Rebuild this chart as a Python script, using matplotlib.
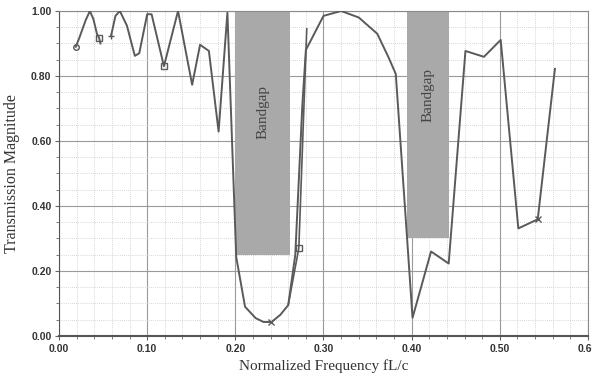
import numpy as np
import matplotlib.pyplot as plt
from matplotlib.ticker import MultipleLocator

# Dane
s1_x = [0.019, 0.023, 0.030, 0.035, 0.039, 0.043, 0.0455, 0.047]
s1_y = [0.89, 0.917, 0.97, 1.00, 0.975, 0.93, 0.917, 0.90]

s2_x = [0.059, 0.064, 0.069, 0.077, 0.086, 0.091, 0.100, 0.105, 0.119, 0.135,
        0.151, 0.160, 0.170, 0.181, 0.191, 0.201, 0.211, 0.223, 0.232, 0.241,
        0.251, 0.260, 0.268, 0.276, 0.280, 0.300, 0.320, 0.340, 0.361, 0.374,
        0.382, 0.401, 0.422, 0.442, 0.461, 0.482, 0.501, 0.521, 0.543, 0.5625]
s2_y = [0.923, 0.985, 1.00, 0.955, 0.862, 0.87, 0.99, 0.99, 0.83, 1.00,
        0.773, 0.896, 0.877, 0.629, 0.995, 0.243, 0.09, 0.055, 0.043, 0.043,
        0.065, 0.095, 0.25, 0.71, 0.88, 0.985, 1.00, 0.98, 0.93, 0.856,
        0.806, 0.056, 0.26, 0.223, 0.877, 0.859, 0.911, 0.331, 0.359, 0.822]

s3_x = [0.260, 0.272, 0.281]
s3_y = [0.095, 0.27, 0.945]

# markery
mk_x = [0.019, 0.0455, 0.059, 0.119, 0.241, 0.272, 0.543]
mk_y = [0.89, 0.917, 0.923, 0.83, 0.043, 0.27, 0.359]
mk_s = ['o', 's', '+', 's', 'x', 's', 'x']

gaps = [(0.200, 0.2625, 0.25), (0.395, 0.442, 0.30)]
gap_label_y = [0.69, 0.74]

fig = plt.figure(figsize=(5.92, 3.79), dpi=100)
ax = fig.add_axes([0.0997, 0.1135, 0.8935, 0.8575])

for (x0, x1, yb), ty in zip(gaps, gap_label_y):
    ax.axvspan(x0, x1, ymin=yb, ymax=1.0, color='#a9a9a9', lw=0, zorder=1)
    ax.text((x0 + x1) / 2, ty, 'Bandgap', rotation=90, ha='center', va='center',
            family='Liberation Serif', fontsize=11, color='#444444', zorder=2)

lc = '#5a5a5a'
ax.plot(s1_x, s1_y, color=lc, lw=1.4, zorder=3)
ax.plot(s2_x, s2_y, color=lc, lw=1.4, zorder=3)
ax.plot(s3_x, s3_y, color=lc, lw=1.2, zorder=3)
for x, y, m in zip(mk_x, mk_y, mk_s):
    ax.plot(x, y, marker=m, ms=4, mfc='none', mec=lc, mew=1.0, zorder=4)

ax.set_xlim(0, 0.6)
ax.set_ylim(0, 1.0)
ax.xaxis.set_major_locator(MultipleLocator(0.1))
ax.xaxis.set_minor_locator(MultipleLocator(0.02))
ax.yaxis.set_major_locator(MultipleLocator(0.2))
ax.yaxis.set_minor_locator(MultipleLocator(0.05))
ax.grid(which='major', color='#9a9a9a', lw=0.8, zorder=0)
ax.grid(which='minor', color='#c8c8c8', lw=0.6, ls=(0, (1, 1.5)), zorder=0)
ax.set_axisbelow(True)

for s in ax.spines.values():
    s.set_color('#8a8a8a')
ax.spines['bottom'].set_color('#555555')
ax.spines['bottom'].set_linewidth(1.5)
ax.spines['left'].set_color('#555555')

ax.tick_params(which='both', direction='out', color='#666666', labelsize=7.5)
ax.tick_params(which='major', length=3, pad=2.5)
ax.tick_params(which='minor', length=2)
ax.set_xticks(np.arange(0, 0.61, 0.1))
ax.set_xticklabels(['%.2f' % v for v in np.arange(0, 0.61, 0.1)],
                   fontweight='bold', family='Liberation Sans', color='#333333')
ax.set_yticks(np.arange(0, 1.01, 0.2))
ax.set_yticklabels(['%.2f' % v for v in np.arange(0, 1.01, 0.2)],
                   fontweight='bold', family='Liberation Sans', color='#333333')

ax.set_xlabel('Normalized Frequency fL/c', family='Liberation Serif',
              fontsize=11, color='#333333', labelpad=4)
ax.set_ylabel('Transmission Magnitude', family='Liberation Serif',
              fontsize=11.5, color='#333333', labelpad=8)

fig.savefig('out.png', dpi=100)
